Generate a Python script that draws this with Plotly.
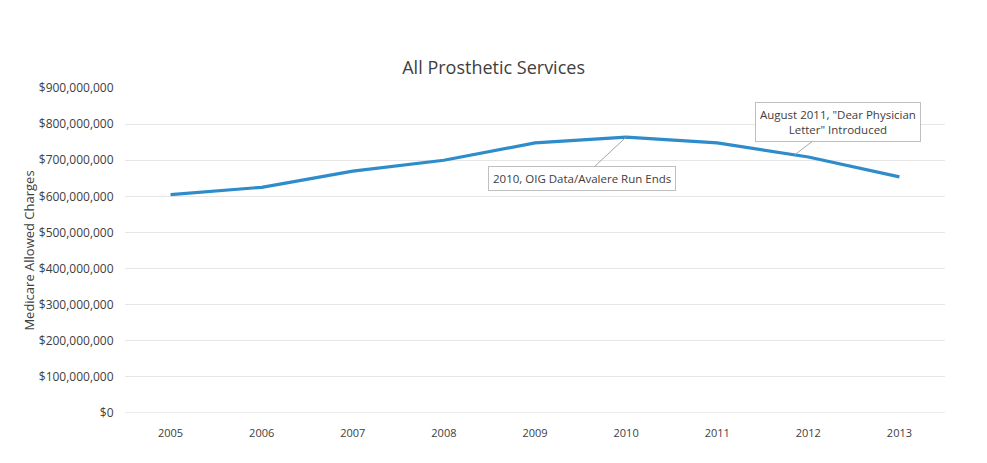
import plotly.graph_objects as go

years = [2005, 2006, 2007, 2008, 2009, 2010, 2011, 2012, 2013]
charges = [605e6, 625e6, 670e6, 700e6, 748e6, 764e6, 748e6, 709e6, 654e6]
tick_vals = [0, 100e6, 200e6, 300e6, 400e6, 500e6, 600e6, 700e6, 800e6, 900e6]
tick_text = ["$0", "$100,000,000", "$200,000,000", "$300,000,000", "$400,000,000",
             "$500,000,000", "$600,000,000", "$700,000,000", "$800,000,000", "$900,000,000"]

font_family = "Open Sans, Liberation Sans, sans-serif"
txt = "#404040"

fig = go.Figure()
fig.add_trace(go.Scatter(x=years, y=charges, mode="lines",
                         line=dict(color="#2e8ccb", width=3.2), hoverinfo="x+y"))

def y_at(x):
    for i in range(len(years) - 1):
        if years[i] <= x <= years[i + 1]:
            t = (x - years[i]) / (years[i + 1] - years[i])
            return charges[i] + t * (charges[i + 1] - charges[i])
    return charges[-1]

fig.add_annotation(x=2010, y=charges[5], text="2010, OIG Data/Avalere Run Ends",
                   showarrow=True, arrowhead=0, arrowwidth=1, arrowcolor="#a6a6a6",
                   ax=-44, ay=41, bordercolor="#bfbfbf", borderwidth=1, borderpad=4,
                   bgcolor="white", font=dict(size=11.5, color=txt, family=font_family))
fig.add_annotation(x=2011.85, y=y_at(2011.85),
                   text="August 2011, \"Dear Physician<br>Letter\" Introduced",
                   showarrow=True, arrowhead=0, arrowwidth=1, arrowcolor="#a6a6a6",
                   ax=43, ay=-33, bordercolor="#bfbfbf", borderwidth=1, borderpad=4,
                   bgcolor="white", font=dict(size=11.5, color=txt, family=font_family))

fig.update_layout(
    width=987, height=463,
    margin=dict(l=117, r=50, t=80, b=58),
    paper_bgcolor="white", plot_bgcolor="white",
    showlegend=False,
    title=dict(text="All Prosthetic Services", x=0.492, xanchor="center", y=0.872, yanchor="middle",
               font=dict(size=18, color=txt, family=font_family)),
    xaxis=dict(range=[2004.5, 2013.5], tickvals=years, ticktext=[str(y) for y in years],
               showgrid=False, zeroline=False, showline=False,
               ticks="outside", ticklen=10, tickcolor="rgba(0,0,0,0)",
               tickfont=dict(size=11, color=txt, family=font_family)),
    yaxis=dict(range=[0, 900e6], tickvals=tick_vals, ticktext=tick_text,
               showgrid=True, gridcolor="#e6e6e6", gridwidth=1, zeroline=False,
               showline=False, ticks="outside", ticklen=8, tickcolor="rgba(0,0,0,0)",
               title=dict(text="Medicare Allowed Charges", standoff=1,
                          font=dict(size=13, color=txt, family=font_family)),
               tickfont=dict(size=12, color=txt, family=font_family)),
)
fig.add_hline(y=0, line=dict(color="#d9d9d9", width=1))

fig.write_html("out.html")
